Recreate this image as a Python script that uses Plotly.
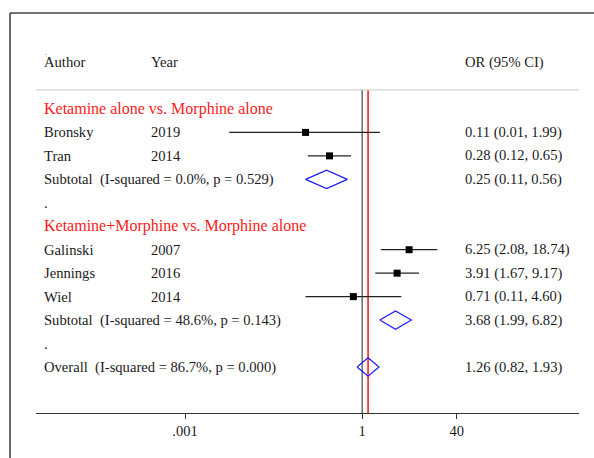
import plotly.graph_objects as go

# ---- data ----
group_titles = ["Ketamine alone vs. Morphine alone", "Ketamine+Morphine vs. Morphine alone"]
authors = ["Bronsky", "Tran", "Galinski", "Jennings", "Wiel"]
years = ["2019", "2014", "2007", "2016", "2014"]
study_group = [0, 0, 1, 1, 1]
study_or = [0.11, 0.28, 6.25, 3.91, 0.71]
study_lo = [0.0056, 0.12, 2.08, 1.67, 0.11]
study_hi = [1.99, 0.65, 18.74, 9.17, 4.60]

sub_labels = ["Subtotal  (I-squared = 0.0%, p = 0.529)", "Subtotal  (I-squared = 48.6%, p = 0.143)"]
sub_or = [0.25, 3.68]
sub_lo = [0.11, 1.99]
sub_hi = [0.56, 6.82]

overall_label = "Overall  (I-squared = 86.7%, p = 0.000)"
overall_or = 1.26
overall_lo = 0.82
overall_hi = 1.93

tick_vals = [0.001, 1, 40]
tick_text = [".001", "1", "40"]

# ---- row layout ----
study_rows = [1, 2, 6, 7, 8]
group_rows = [0, 5]
sub_rows = [3, 9]
dot_rows = [4, 10]
overall_row = 11
header_row = -2.0
line_row = -0.81
Y_TOP, Y_BOT = -4.09, 12.96

W, H = 594, 458
ML, MR, MT, MB = 36, 15, 13, 45
PW = W - ML - MR
PH = H - MT - MB

def px(xpix):
    return (xpix - ML) / PW

FONT = "Liberation Serif"
TXT = "#1a1a1a"
FS = 14.6
fig = go.Figure()

# reference lines
fig.add_trace(go.Scatter(x=[1, 1], y=[line_row, Y_BOT], mode="lines",
                         line=dict(color="#222222", width=1), hoverinfo="skip", showlegend=False))
fig.add_trace(go.Scatter(x=[overall_or, overall_or], y=[line_row, Y_BOT], mode="lines",
                         line=dict(color="#ff2020", width=1.6), hoverinfo="skip", showlegend=False))

# study CIs and boxes
for i in range(len(authors)):
    r = study_rows[i]
    fig.add_trace(go.Scatter(x=[study_lo[i], study_hi[i]], y=[r, r], mode="lines",
                             line=dict(color="#222222", width=1.2), hoverinfo="skip", showlegend=False))
fig.add_trace(go.Scatter(x=study_or, y=study_rows, mode="markers",
                         marker=dict(symbol="square", size=7, color="black"), showlegend=False))

# diamonds
dh = 0.39
def diamond(est, lo, hi, r):
    fig.add_trace(go.Scatter(x=[lo, est, hi, est, lo], y=[r, r - dh, r, r + dh, r], mode="lines",
                             line=dict(color="#1a1aff", width=1.2), hoverinfo="skip", showlegend=False))
for k in range(2):
    diamond(sub_or[k], sub_lo[k], sub_hi[k], sub_rows[k])
diamond(overall_or, overall_lo, overall_hi, overall_row)

ann = []
def text(x, y, s, size=FS, color=TXT):
    ann.append(dict(x=px(x), y=y, xref="paper", yref="y", text=s, showarrow=False,
                    xanchor="left", yanchor="middle", font=dict(family=FONT, size=size, color=color)))

text(42, header_row, "Author")
text(149, header_row, "Year")
text(463, header_row, "OR (95% CI)")
text(43, header_row - 0.4, ".", size=6)

def fmt(e, lo, hi):
    return f"{e:.2f} ({lo:.2f}, {hi:.2f})"

for g in range(2):
    text(42, group_rows[g], group_titles[g], size=16, color="#ff1a1a")
for i in range(len(authors)):
    r = study_rows[i]
    text(42, r, authors[i])
    text(149, r, years[i])
    text(463, r, fmt(study_or[i], study_lo[i], study_hi[i]))
for k in range(2):
    text(42, sub_rows[k], sub_labels[k])
    text(463, sub_rows[k], fmt(sub_or[k], sub_lo[k], sub_hi[k]))
for r in dot_rows:
    text(42, r, ".")
text(42, overall_row, overall_label)
text(463, overall_row, fmt(overall_or, overall_lo, overall_hi))

shapes = [
    dict(type="line", xref="paper", yref="y", x0=0, x1=1, y0=line_row, y1=line_row,
         line=dict(color="#c8c8c8", width=1)),
    dict(type="line", xref="paper", yref="paper", x0=px(10), x1=px(W + 5), y0=1, y1=1,
         line=dict(color="#444444", width=1.6)),
    dict(type="line", xref="paper", yref="paper", x0=px(10), x1=px(10), y0=1, y1=-(MB + 5) / PH,
         line=dict(color="#444444", width=1.6)),
]

fig.update_layout(
    width=W, height=H, margin=dict(l=ML, r=MR, t=MT, b=MB),
    paper_bgcolor="white", plot_bgcolor="white",
    annotations=ann, shapes=shapes, showlegend=False,
    xaxis=dict(type="log", range=[-5.524, 3.673], tickvals=tick_vals, ticktext=tick_text,
               ticks="outside", ticklen=5, tickcolor="#333333", showgrid=False, zeroline=False,
               showline=True, linecolor="#333333", linewidth=1,
               tickfont=dict(family=FONT, size=14.5, color=TXT)),
    yaxis=dict(range=[Y_BOT, Y_TOP], visible=False, showgrid=False, zeroline=False),
)

fig.write_html("out.html", config={"displayModeBar": False},
               post_script="document.body.style.margin='0';document.body.style.overflow='hidden';")
